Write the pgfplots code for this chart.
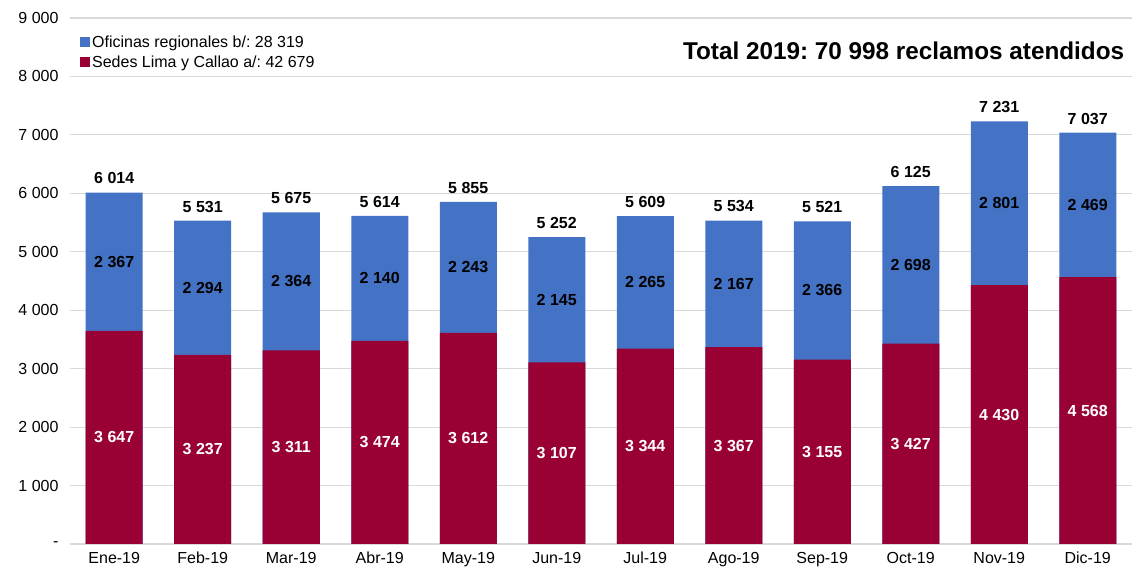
\documentclass[border=0pt]{standalone}
\usepackage{fontspec}
\setmainfont{Liberation Sans}
\usepackage{pgfplots}
\usepackage{pgfplotstable}
\pgfplotsset{compat=1.18}
\frenchspacing

\definecolor{regblue}{HTML}{4472C4}
\definecolor{limared}{HTML}{990033}

% x, Sedes Lima y Callao, Oficinas regionales, total
\pgfplotstableread{
x lima reg tot
0 3647 2367 6014
1 3237 2294 5531
2 3311 2364 5675
3 3474 2140 5614
4 3612 2243 5855
5 3107 2145 5252
6 3344 2265 5609
7 3367 2167 5534
8 3155 2366 5521
9 3427 2698 6125
10 4430 2801 7231
11 4568 2469 7037
}\reclamos

\newcommand{\lblfont}{\fontsize{16}{19}\selectfont}

\begin{document}
\begin{tikzpicture}
\path[use as bounding box] (-70pt,-28pt) rectangle (1062pt,544pt);
\begin{axis}[
  at={(0,0)}, anchor=south west,
  scale only axis,
  width=1062pt, height=526pt,
  xmin=-0.5, xmax=11.5,
  ymin=0, ymax=9000,
  axis line style={draw=none},
  major tick length=0pt,
  ymajorgrids,
  grid style={draw=black!15, line width=1.2pt},
  ytick={0,1000,...,9000},
  yticklabels={-,1 000,2 000,3 000,4 000,5 000,6 000,7 000,8 000,9 000},
  yticklabel style={font=\lblfont, anchor=east, xshift=-8pt},
  xtick={0,...,11},
  xticklabels={Ene-19,Feb-19,Mar-19,Abr-19,May-19,Jun-19,Jul-19,Ago-19,Sep-19,Oct-19,Nov-19,Dic-19},
  xticklabel style={font=\lblfont, text height=12pt, text depth=3pt, yshift=-4pt},
  /pgf/number format/assume math mode=true,
  /pgf/number format/1000 sep={\ },
  legend style={at={(0.0094,0.97)}, anchor=north west, draw=none, fill=none,
    font=\lblfont, row sep=3pt, inner sep=0pt},
  legend cell align=left,
  legend image code/.code={\fill[#1] (-2pt,-4.5pt) rectangle (8pt,5.5pt);},
]
\addplot[ybar, bar width=57pt, bar shift=0pt, fill=regblue, draw=none] table[x=x, y=tot] {\reclamos};
\addlegendentry{Oficinas regionales b/: 28 319}
\addplot[ybar, bar width=57pt, bar shift=0pt, fill=limared, draw=none] table[x=x, y=lima] {\reclamos};
\addlegendentry{Sedes Lima y Callao a/: 42 679}

% value labels
\addplot[draw=none, forget plot, nodes near coords, point meta=\thisrow{lima},
  nodes near coords style={font=\lblfont\bfseries, text=white, anchor=center}]
  table[x=x, y expr=\thisrow{lima}/2] {\reclamos};
\addplot[draw=none, forget plot, nodes near coords, point meta=\thisrow{reg},
  nodes near coords style={font=\lblfont\bfseries, text=black, anchor=center}]
  table[x=x, y expr=\thisrow{lima}+\thisrow{reg}/2] {\reclamos};
\addplot[draw=none, forget plot, nodes near coords, point meta=\thisrow{tot},
  nodes near coords style={font=\lblfont\bfseries, text=black, anchor=south, yshift=5pt}]
  table[x=x, y=tot] {\reclamos};

\node[anchor=east, font=\fontsize{24.3}{28}\selectfont\bfseries]
  at (axis description cs:0.996,0.937) {Total 2019: 70 998 reclamos atendidos};
\end{axis}
\end{tikzpicture}
\end{document}
